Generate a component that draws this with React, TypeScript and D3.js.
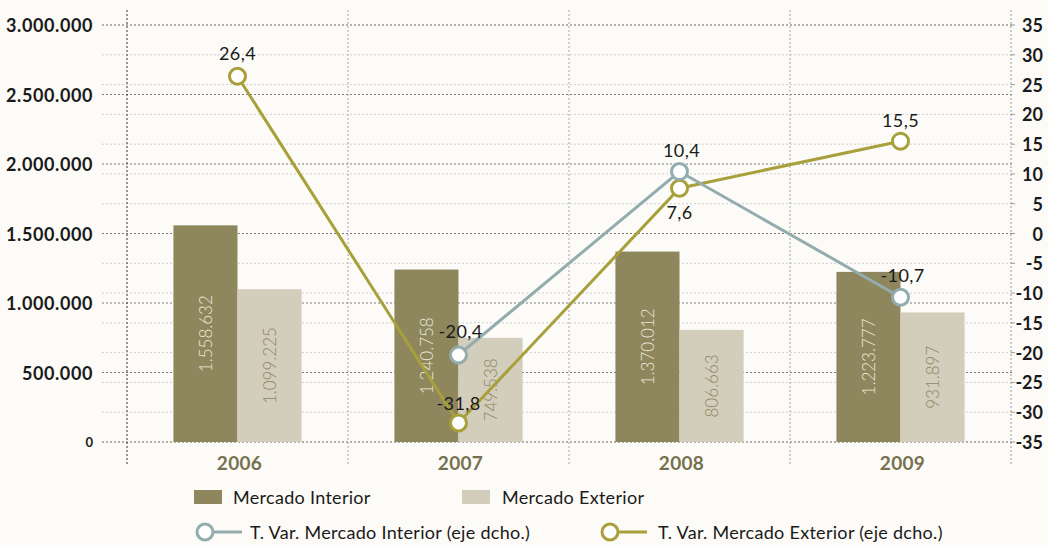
import React from "react";
import * as d3 from "d3";

const years = ["2006", "2007", "2008", "2009"];
const mercadoInterior = [1558632, 1240758, 1370012, 1223777];
const mercadoExterior = [1099225, 749538, 806663, 931897];
const varInterior: (number | null)[] = [null, -20.4, 10.4, -10.7];
const varExterior: (number | null)[] = [26.4, -31.8, 7.6, 15.5];
const leftTicks = [0, 500000, 1000000, 1500000, 2000000, 2500000, 3000000];
const rightTicks = [-35, -30, -25, -20, -15, -10, -5, 0, 5, 10, 15, 20, 25, 30, 35];

const W = 1048, H = 545;
const left = 127, right = 1011, top = 25, bottom = 442;
const BG = "#fcfbf7";
const C_INT = "#8e875e";
const C_EXT = "#d3cdbb";
const C_LINT = "#93acae";
const C_LEXT = "#a8a03a";
const FONT = "Lato, 'Open Sans', sans-serif";

const fixMinus = (s: string) => s.replace(/\u2212/g, "-");
const fmtThousands = (v: number) => fixMinus(d3.format(",")(v).replace(/,/g, "."));
const fmtDec = (v: number) => fixMinus(d3.format(".1f")(v).replace(".", ","));

export default function App() {
  const x = d3.scaleBand<string>().domain(years).range([left, right]).padding(0);
  const bw = x.bandwidth();
  const pair = bw * 0.58;
  const x1 = d3
    .scaleBand<string>()
    .domain(["int", "ext"])
    .range([(bw - pair) / 2, (bw + pair) / 2])
    .padding(0);
  const yL = d3.scaleLinear().domain([0, 3000000]).range([bottom, top]);
  const yR = d3.scaleLinear().domain([-35, 35]).range([bottom, top]);
  const cx = (y: string) => (x(y) as number) + bw / 2;

  const makeLine = (vals: (number | null)[]) =>
    d3
      .line<[string, number | null]>()
      .defined((d) => d[1] !== null)
      .x((d) => cx(d[0]))
      .y((d) => yR(d[1] as number))(years.map((y, i) => [y, vals[i]]));

  const barLabel = (v: number, xc: number, h0: number, h1: number, color: string, key: string) => {
    const yc = (h0 + h1) / 2;
    return (
      <text
        key={key}
        transform={`translate(${xc},${yc}) rotate(-90)`}
        textAnchor="middle"
        dominantBaseline="central"
        fontFamily={FONT}
        fontWeight={300}
        fontSize={17}
        fill={color}
      >
        {fmtThousands(v)}
      </text>
    );
  };

  const labelOffsets: { [k: string]: number } = {
    "int-1": -24,
    "int-2": -22,
    "int-3": -22,
    "ext-0": -23,
    "ext-1": -20,
    "ext-2": 24,
    "ext-3": -21,
  };

  return (
    <div style={{ position: "fixed", left: 0, top: 0, width: W, height: H, background: BG }}>
      <svg width={W} height={H} style={{ display: "block" }}>
        <rect width={W} height={H} fill={BG} />
        {rightTicks.map((t) => (
          <line
            key={"rg" + t}
            x1={102}
            x2={right}
            y1={yR(t)}
            y2={yR(t)}
            stroke="#cfcfcf"
            strokeWidth={1}
            strokeDasharray="2,2"
          />
        ))}
        {leftTicks.map((t) => (
          <line
            key={"lg" + t}
            x1={102}
            x2={right + 2}
            y1={yL(t)}
            y2={yL(t)}
            stroke="#7a7a7a"
            strokeWidth={1}
            strokeDasharray="2,2"
          />
        ))}
        {years.slice(1).map((y) => (
          <line
            key={"vd" + y}
            x1={x(y)}
            x2={x(y)}
            y1={10}
            y2={465}
            stroke="#a8a8a8"
            strokeWidth={1}
            strokeDasharray="2,2"
          />
        ))}
        <line x1={left} x2={left} y1={10} y2={465} stroke="#333" strokeWidth={1} strokeDasharray="2,2" />
        <line x1={right} x2={right} y1={10} y2={465} stroke="#999" strokeWidth={1} strokeDasharray="2,2" />
        {rightTicks.map((t) => (
          <line key={"rt" + t} x1={right} x2={right + 4} y1={yR(t)} y2={yR(t)} stroke="#999" strokeWidth={1} />
        ))}

        {years.map((y, i) => {
          const xi = (x(y) as number) + (x1("int") as number);
          const xe = (x(y) as number) + (x1("ext") as number);
          const w = x1.bandwidth();
          return (
            <g key={"b" + y}>
              <rect x={xi} y={yL(mercadoInterior[i])} width={w} height={bottom - yL(mercadoInterior[i])} fill={C_INT} />
              <rect x={xe} y={yL(mercadoExterior[i])} width={w} height={bottom - yL(mercadoExterior[i])} fill={C_EXT} />
            </g>
          );
        })}
        {years.map((y, i) => {
          const xi = (x(y) as number) + (x1("int") as number) + x1.bandwidth() / 2;
          const xe = (x(y) as number) + (x1("ext") as number) + x1.bandwidth() / 2;
          return (
            <g key={"bl" + y}>
              {barLabel(mercadoInterior[i], xi, yL(mercadoInterior[i]), bottom, "#ebe7d8", "li" + y)}
              {barLabel(mercadoExterior[i], xe, yL(mercadoExterior[i]), bottom, "#8d8863", "le" + y)}
            </g>
          );
        })}

        {leftTicks.map((t) => (
          <text
            key={"lt" + t}
            x={93}
            y={yL(t)}
            textAnchor="end"
            dominantBaseline="central"
            fontFamily={FONT}
            fontWeight={700}
            fontSize={t === 0 ? 13 : 18}
            letterSpacing={t === 0 ? 0 : 0.6}
            fill="#1a1a1a"
          >
            {fmtThousands(t)}
          </text>
        ))}
        {rightTicks.map((t) => (
          <text
            key={"rl" + t}
            x={1043}
            y={yR(t)}
            textAnchor="end"
            dominantBaseline="central"
            fontFamily={FONT}
            fontWeight={700}
            fontSize={18}
            fill="#1a1a1a"
          >
            {fixMinus(String(t))}
          </text>
        ))}
        {years.map((y) => (
          <text
            key={"cl" + y}
            x={cx(y) + 2}
            y={462}
            textAnchor="middle"
            dominantBaseline="central"
            fontFamily={FONT}
            fontWeight={700}
            fontSize={19}
            letterSpacing={0.3}
            fill="#77704f"
          >
            {y}
          </text>
        ))}

        <path d={makeLine(varExterior) || ""} fill="none" stroke={C_LEXT} strokeWidth={3} />
        <path d={makeLine(varInterior) || ""} fill="none" stroke={C_LINT} strokeWidth={3} />
        {years.map((y, i) =>
          varExterior[i] === null ? null : (
            <circle key={"me" + y} cx={cx(y)} cy={yR(varExterior[i] as number)} r={8} fill="#fff" stroke={C_LEXT} strokeWidth={3} />
          )
        )}
        {years.map((y, i) =>
          varInterior[i] === null ? null : (
            <circle key={"mi" + y} cx={cx(y)} cy={yR(varInterior[i] as number)} r={8} fill="#fff" stroke={C_LINT} strokeWidth={3} />
          )
        )}
        {years.map((y, i) =>
          varExterior[i] === null ? null : (
            <text
              key={"de" + y}
              x={cx(y)}
              y={yR(varExterior[i] as number) + labelOffsets["ext-" + i]}
              textAnchor="middle"
              dominantBaseline="central"
              fontFamily={FONT}
              fontSize={18}
              letterSpacing={0.4}
              fill="#1a1a1a"
            >
              {fmtDec(varExterior[i] as number)}
            </text>
          )
        )}
        {years.map((y, i) =>
          varInterior[i] === null ? null : (
            <text
              key={"di" + y}
              x={cx(y) + 2}
              y={yR(varInterior[i] as number) + labelOffsets["int-" + i]}
              textAnchor="middle"
              dominantBaseline="central"
              fontFamily={FONT}
              fontSize={18}
              letterSpacing={0.4}
              fill="#1a1a1a"
            >
              {fmtDec(varInterior[i] as number)}
            </text>
          )
        )}

        <g fontFamily={FONT} fontSize={18} letterSpacing={0.3} fill="#1a1a1a">
          <rect x={194} y={490} width={28} height={14} fill={C_INT} />
          <text x={233} y={497} dominantBaseline="central">Mercado Interior</text>
          <rect x={462} y={490} width={28} height={14} fill={C_EXT} />
          <text x={502} y={497} dominantBaseline="central">Mercado Exterior</text>

          <line x1={205} x2={242} y1={532} y2={532} stroke={C_LINT} strokeWidth={3} />
          <circle cx={205} cy={532} r={8} fill="#fff" stroke={C_LINT} strokeWidth={3} />
          <text x={250} y={532} dominantBaseline="central">T. Var. Mercado Interior (eje dcho.)</text>

          <line x1={610} x2={647} y1={532} y2={532} stroke={C_LEXT} strokeWidth={3} />
          <circle cx={610} cy={532} r={8} fill="#fff" stroke={C_LEXT} strokeWidth={3} />
          <text x={658} y={532} dominantBaseline="central">T. Var. Mercado Exterior (eje dcho.)</text>
        </g>
      </svg>
    </div>
  );
}
